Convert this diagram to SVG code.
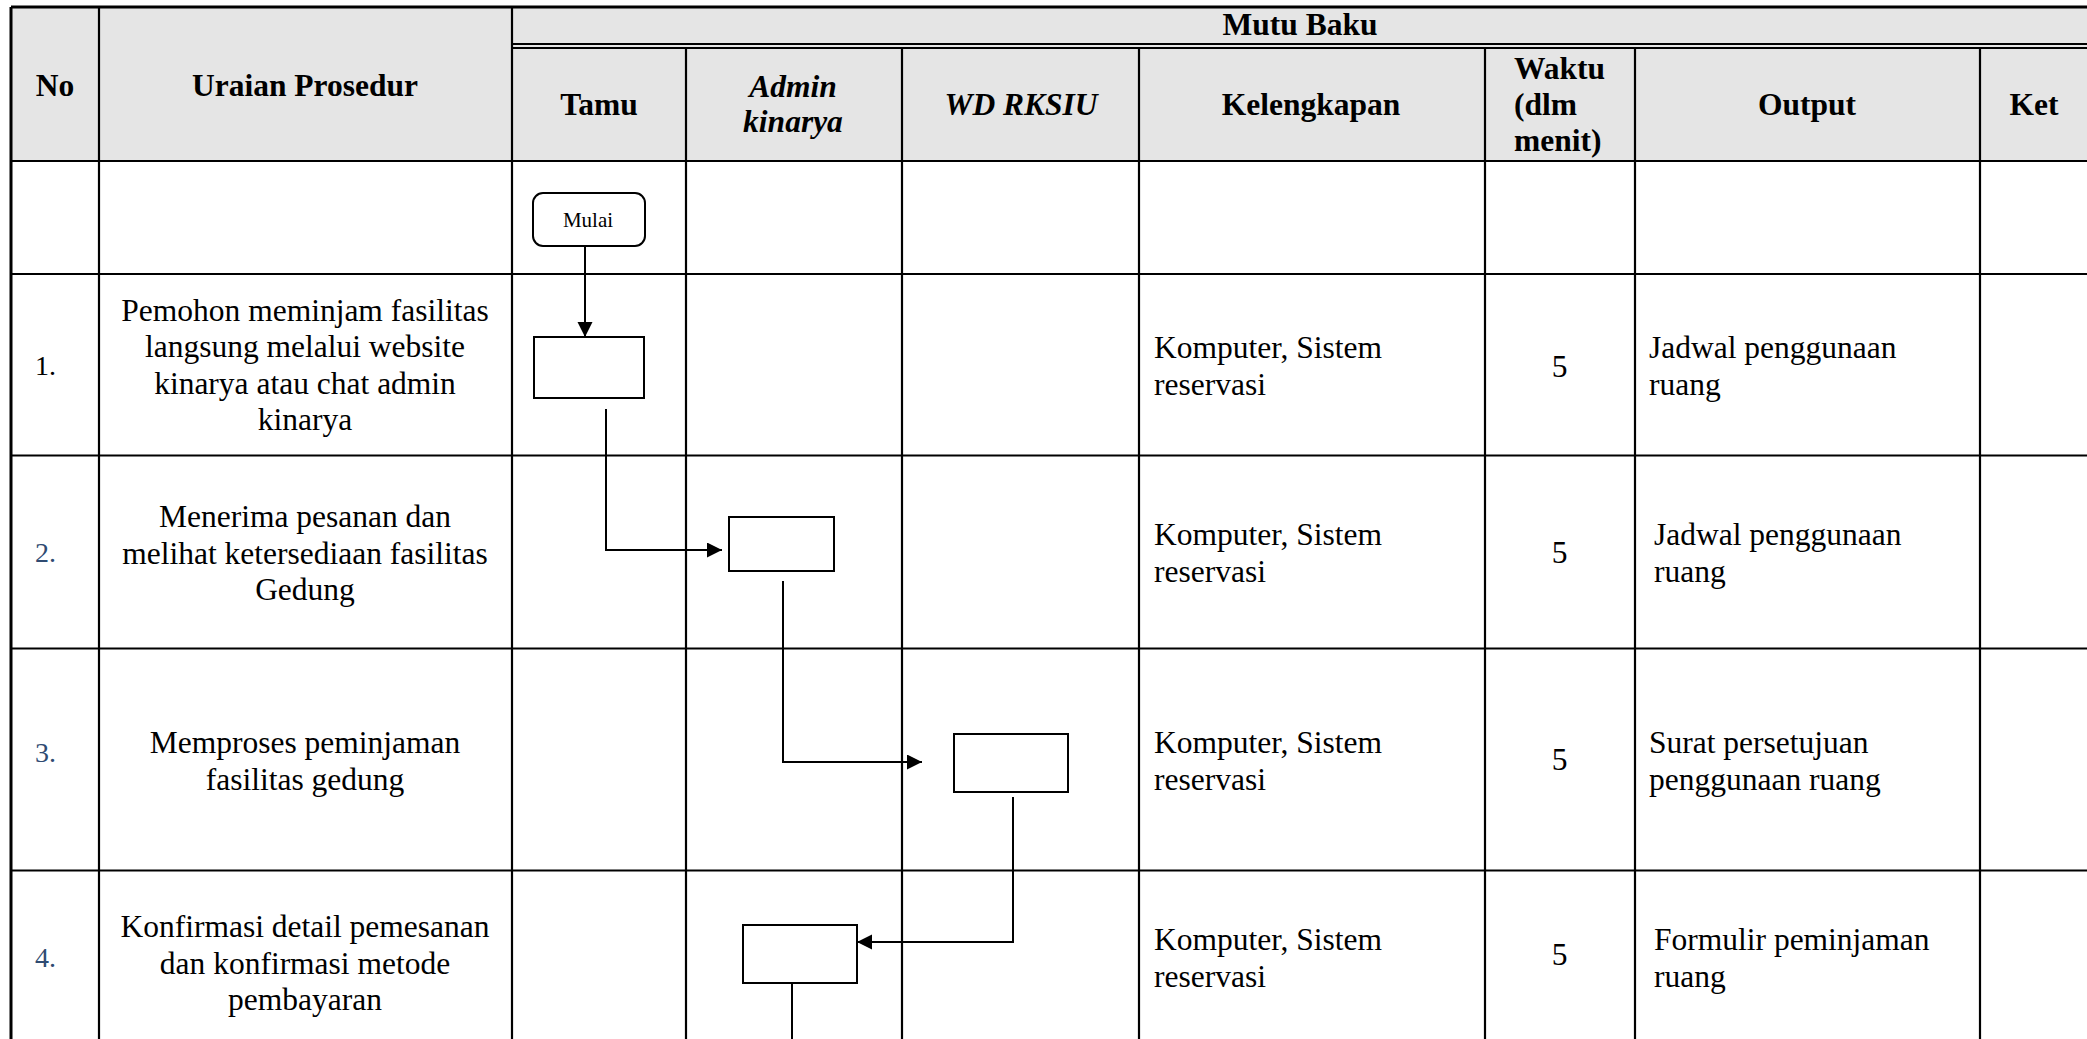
<svg xmlns="http://www.w3.org/2000/svg" width="2087" height="1039" viewBox="0 0 2087 1039">
  <style>
    .grid { stroke: #000; stroke-width: 2.2; fill: none; }
    .border { stroke: #000; stroke-width: 3; fill: none; }
    .hdr { font-family: "Liberation Serif", "Times New Roman", serif; font-size: 31.5px; font-weight: bold; fill: #000; }
    .hdr-i { font-style: italic; }
    .txt { font-family: "Liberation Serif", "Times New Roman", serif; font-size: 31.5px; fill: #000; }
    .num { font-family: "Liberation Serif", "Times New Roman", serif; font-size: 28px; fill: #000; }
    .num-b { fill: #2F4B72; }
    .mid { text-anchor: middle; }
    .node rect { fill: #fff; stroke: #000; stroke-width: 2; }
    .node text { font-family: "Liberation Serif", "Times New Roman", serif; font-size: 21px; fill: #000; text-anchor: middle; }
    .conn path { fill: none; stroke: #000; stroke-width: 2; }
  </style>
  <defs>
    <marker id="arrow" markerUnits="userSpaceOnUse" markerWidth="16" markerHeight="16" refX="15" refY="7.5" orient="auto">
      <path d="M0,0 L15,7.5 L0,15 z" fill="#000"/>
    </marker>
  </defs>

  <rect width="2087" height="1039" fill="#fff"/>

  <!-- header shading -->
  <rect x="11" y="7" width="2076" height="154" fill="#E5E5E5"/>

  <!-- table grid -->
  <g id="grid">
    <line class="border" x1="11" y1="7" x2="2087" y2="7"/>
    <line class="border" x1="11" y1="7" x2="11" y2="1039"/>
    <line class="grid" x1="512" y1="44" x2="2087" y2="44" stroke-width="2.2"/>
    <line class="grid" x1="512" y1="48" x2="2087" y2="48" stroke-width="1.6"/>
    <line class="grid" x1="11" y1="161" x2="2087" y2="161" stroke-width="4.2"/>
    <line class="grid" x1="11" y1="274" x2="2087" y2="274" stroke-width="2.5"/>
    <line class="grid" x1="11" y1="455.5" x2="2087" y2="455.5" stroke-width="2.5"/>
    <line class="grid" x1="11" y1="648.5" x2="2087" y2="648.5" stroke-width="2.5"/>
    <line class="grid" x1="11" y1="870.5" x2="2087" y2="870.5" stroke-width="2.5"/>
    <line class="grid" x1="99" y1="7" x2="99" y2="1039"/>
    <line class="grid" x1="512" y1="7" x2="512" y2="1039"/>
    <line class="grid" x1="686" y1="48" x2="686" y2="1039"/>
    <line class="grid" x1="902" y1="48" x2="902" y2="1039"/>
    <line class="grid" x1="1139" y1="48" x2="1139" y2="1039"/>
    <line class="grid" x1="1485" y1="48" x2="1485" y2="1039"/>
    <line class="grid" x1="1635" y1="48" x2="1635" y2="1039"/>
    <line class="grid" x1="1980" y1="48" x2="1980" y2="1039"/>
  </g>

  <!-- header labels -->
  <g id="header">
    <text class="hdr mid" x="55" y="96">No</text>
    <text class="hdr mid" x="305" y="96">Uraian Prosedur</text>
    <text class="hdr mid" x="1300" y="35">Mutu Baku</text>
    <text class="hdr mid" x="599" y="115">Tamu</text>
    <text class="hdr hdr-i mid" x="793" y="97">Admin</text>
    <text class="hdr hdr-i mid" x="793" y="132">kinarya</text>
    <text class="hdr hdr-i mid" x="1021" y="115">WD RKSIU</text>
    <text class="hdr mid" x="1311" y="115">Kelengkapan</text>
    <text class="hdr" x="1514" y="79">Waktu</text>
    <text class="hdr" x="1514" y="115">(dlm</text>
    <text class="hdr" x="1514" y="151">menit)</text>
    <text class="hdr mid" x="1807" y="115">Output</text>
    <text class="hdr mid" x="2034" y="115">Ket</text>
  </g>

  <!-- row numbers -->
  <g id="numbers">
    <text class="num" x="35" y="375">1.</text>
    <text class="num num-b" x="35" y="562">2.</text>
    <text class="num num-b" x="35" y="762">3.</text>
    <text class="num num-b" x="35" y="967">4.</text>
  </g>

  <!-- procedure descriptions -->
  <g id="procedures" class="txt mid">
    <text class="txt mid" x="305" y="320.5">Pemohon meminjam fasilitas</text>
    <text class="txt mid" x="305" y="357">langsung melalui website</text>
    <text class="txt mid" x="305" y="393.5">kinarya atau chat admin</text>
    <text class="txt mid" x="305" y="430">kinarya</text>

    <text class="txt mid" x="305" y="527">Menerima pesanan dan</text>
    <text class="txt mid" x="305" y="563.5">melihat ketersediaan fasilitas</text>
    <text class="txt mid" x="305" y="600">Gedung</text>

    <text class="txt mid" x="305" y="753">Memproses peminjaman</text>
    <text class="txt mid" x="305" y="790">fasilitas gedung</text>

    <text class="txt mid" x="305" y="937">Konfirmasi detail pemesanan</text>
    <text class="txt mid" x="305" y="973.5">dan konfirmasi metode</text>
    <text class="txt mid" x="305" y="1010">pembayaran</text>
  </g>

  <!-- equipment, time and output columns -->
  <g id="standards">
    <text class="txt" x="1154" y="358">Komputer, Sistem</text>
    <text class="txt" x="1154" y="394.5">reservasi</text>
    <text class="txt" x="1154" y="545">Komputer, Sistem</text>
    <text class="txt" x="1154" y="581.5">reservasi</text>
    <text class="txt" x="1154" y="753">Komputer, Sistem</text>
    <text class="txt" x="1154" y="789.5">reservasi</text>
    <text class="txt" x="1154" y="950">Komputer, Sistem</text>
    <text class="txt" x="1154" y="986.5">reservasi</text>

    <text class="txt mid" x="1559.5" y="376.5">5</text>
    <text class="txt mid" x="1559.5" y="563">5</text>
    <text class="txt mid" x="1559.5" y="770">5</text>
    <text class="txt mid" x="1559.5" y="965">5</text>

    <text class="txt" x="1649" y="358">Jadwal penggunaan</text>
    <text class="txt" x="1649" y="394.5">ruang</text>
    <text class="txt" x="1654" y="545">Jadwal penggunaan</text>
    <text class="txt" x="1654" y="581.5">ruang</text>
    <text class="txt" x="1649" y="753">Surat persetujuan</text>
    <text class="txt" x="1649" y="789.5">penggunaan ruang</text>
    <text class="txt" x="1654" y="950">Formulir peminjaman</text>
    <text class="txt" x="1654" y="986.5">ruang</text>
  </g>

  <!-- flow connectors -->
  <g id="connectors" class="conn">
    <path d="M585 246 V337" marker-end="url(#arrow)"/>
    <path d="M606 409 V550 H722" marker-end="url(#arrow)"/>
    <path d="M783 581 V762 H922" marker-end="url(#arrow)"/>
    <path d="M1013 797 V942 H857" marker-end="url(#arrow)"/>
    <path d="M792 983 V1039"/>
  </g>

  <!-- flow nodes -->
  <g id="node-mulai" class="node">
    <rect x="533" y="193" width="112" height="53" rx="10" ry="10"/>
    <text x="588" y="227">Mulai</text>
  </g>
  <g id="node-step1" class="node">
    <rect x="534" y="337" width="110" height="61"/>
  </g>
  <g id="node-step2" class="node">
    <rect x="729" y="517" width="105" height="54"/>
  </g>
  <g id="node-step3" class="node">
    <rect x="954" y="734" width="114" height="58"/>
  </g>
  <g id="node-step4" class="node">
    <rect x="743" y="925" width="114" height="58"/>
  </g>
</svg>
